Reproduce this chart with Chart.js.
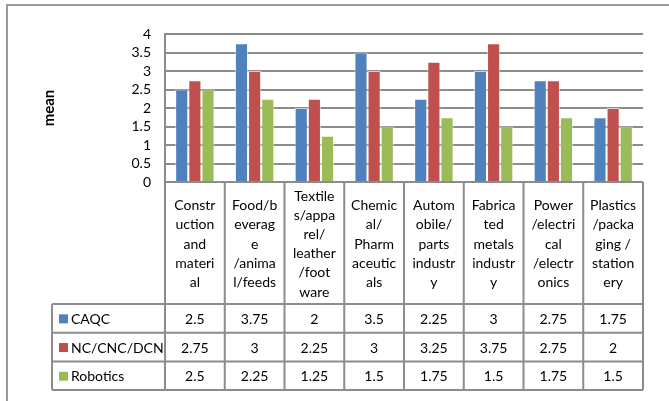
<!DOCTYPE html>
<html>
<head>
<meta charset="utf-8">
<script src="https://cdn.jsdelivr.net/npm/chart.js@4.4.1/dist/chart.umd.min.js"></script>
<style>
  html, body { margin: 0; padding: 0; background: #fff; }
  #wrap { position: relative; width: 669px; height: 401px; }
</style>
</head>
<body>
<div id="wrap"><canvas id="c" width="669" height="401"></canvas></div>
<script>
// Industry categories (wrapped as they appear in the table header)
const categories = [
  ["Constr", "uction", "and", "materi", "al"],
  ["Food/b", "everag", "e", "/anima", "l/feeds"],
  ["Textile", "s/appa", "rel/", "leather", "/foot", "ware"],
  ["Chemic", "al/", "Pharm", "aceutic", "als"],
  ["Autom", "obile/", "parts", "industr", "y"],
  ["Fabrica", "ted", "metals", "industr", "y"],
  ["Power", "/electri", "cal", "/electr", "onics"],
  ["Plastics", "/packa", "ging /", "station", "ery"]
];
const seriesNames = ["CAQC", "NC/CNC/DCN", "Robotics"];
const caqc = [2.5, 3.75, 2, 3.5, 2.25, 3, 2.75, 1.75];
const ncCncDcn = [2.75, 3, 2.25, 3, 3.25, 3.75, 2.75, 2];
const robotics = [2.5, 2.25, 1.25, 1.5, 1.75, 1.5, 1.75, 1.5];
const yTicks = [0, 0.5, 1, 1.5, 2, 2.5, 3, 3.5, 4];

const colors = ["#4F81BD", "#C0504D", "#9BBB59"];
const lineGray = "#8c8c8c";
const FONT = "Lato, 'Open Sans', sans-serif";

// Outer frame plus the data table under the plot
const tablePlugin = {
  id: "dataTable",
  beforeDraw(chart) {
    const ctx = chart.ctx;
    ctx.save();
    ctx.strokeStyle = "#9a9a9a";
    ctx.lineWidth = 2;
    ctx.beginPath();
    ctx.moveTo(7, 401);
    ctx.lineTo(7, 5);
    ctx.lineTo(669, 5);
    ctx.stroke();
    ctx.restore();
  },
  afterDraw(chart) {
    const ctx = chart.ctx;
    const x = chart.scales.x;
    const area = chart.chartArea;
    const n = categories.length;
    const colW = (area.right - area.left) / n;
    const headTop = area.bottom;
    const headBottom = 304;
    const rowH = 28.7;
    const legendLeft = 52;
    const tableBottom = headBottom + rowH * 3;
    const data = [caqc, ncCncDcn, robotics];

    ctx.save();
    ctx.strokeStyle = lineGray;
    ctx.lineWidth = 2;
    ctx.beginPath();
    ctx.moveTo(area.left, headTop); ctx.lineTo(area.right, headTop);
    for (let r = 0; r <= 3; r++) {
      const y = headBottom + r * rowH;
      ctx.moveTo(legendLeft, y); ctx.lineTo(area.right, y);
    }
    for (let c = 0; c <= n; c++) {
      const cx = area.left + c * colW;
      ctx.moveTo(cx, headTop); ctx.lineTo(cx, tableBottom);
    }
    ctx.moveTo(legendLeft, headBottom); ctx.lineTo(legendLeft, tableBottom);
    ctx.stroke();

    ctx.fillStyle = "#000";
    ctx.font = "14px " + FONT;
    ctx.textAlign = "center";
    ctx.textBaseline = "middle";
    const lh = 19.2;
    const hc = (headTop + headBottom) / 2 + 1;
    categories.forEach((lines, i) => {
      const cx = x.getPixelForValue(i);
      const y0 = hc - (lines.length - 1) * lh / 2;
      lines.forEach((t, k) => ctx.fillText(t, cx, y0 + k * lh));
    });

    data.forEach((vals, r) => {
      const cy = headBottom + r * rowH + rowH / 2 + 1;
      vals.forEach((v, i) => ctx.fillText(String(v), x.getPixelForValue(i), cy));
      ctx.fillStyle = colors[r];
      ctx.fillRect(59, cy - 5, 9, 9);
      ctx.fillStyle = "#000";
      ctx.textAlign = "left";
      ctx.fillText(seriesNames[r], 71, cy);
      ctx.textAlign = "center";
    });
    ctx.restore();
  }
};

new Chart(document.getElementById("c"), {
  type: "bar",
  data: {
    labels: categories,
    datasets: [caqc, ncCncDcn, robotics].map((d, i) => ({
      label: seriesNames[i],
      data: d,
      backgroundColor: colors[i],
      borderColor: "rgba(255,255,255,0.6)",
      borderWidth: 1,
      borderSkipped: "bottom",
      barPercentage: 1.0,
      categoryPercentage: 0.66
    }))
  },
  options: {
    responsive: false,
    animation: false,
    devicePixelRatio: 1,
    layout: { padding: { left: 0, top: 34, right: 26, bottom: 219 } },
    plugins: { legend: { display: false }, tooltip: { enabled: false } },
    scales: {
      x: { display: false },
      y: {
        min: 0, max: 4,
        afterBuildTicks(scale) { scale.ticks = yTicks.map(v => ({ value: v })); },
        afterFit(scale) { scale.width = 165; },
        ticks: {
          color: "#000", padding: 14, autoSkip: false,
          font: { family: FONT, size: 14 },
          callback: (v) => String(v)
        },
        grid: { color: lineGray, lineWidth: 2, drawTicks: false },
        border: { color: lineGray, width: 2 },
        title: {
          display: true, text: "mean", color: "#000",
          font: { family: FONT, size: 15, weight: "bold" },
          padding: { top: 40, bottom: 0 }
        }
      }
    }
  },
  plugins: [tablePlugin]
});
</script>
</body>
</html>
